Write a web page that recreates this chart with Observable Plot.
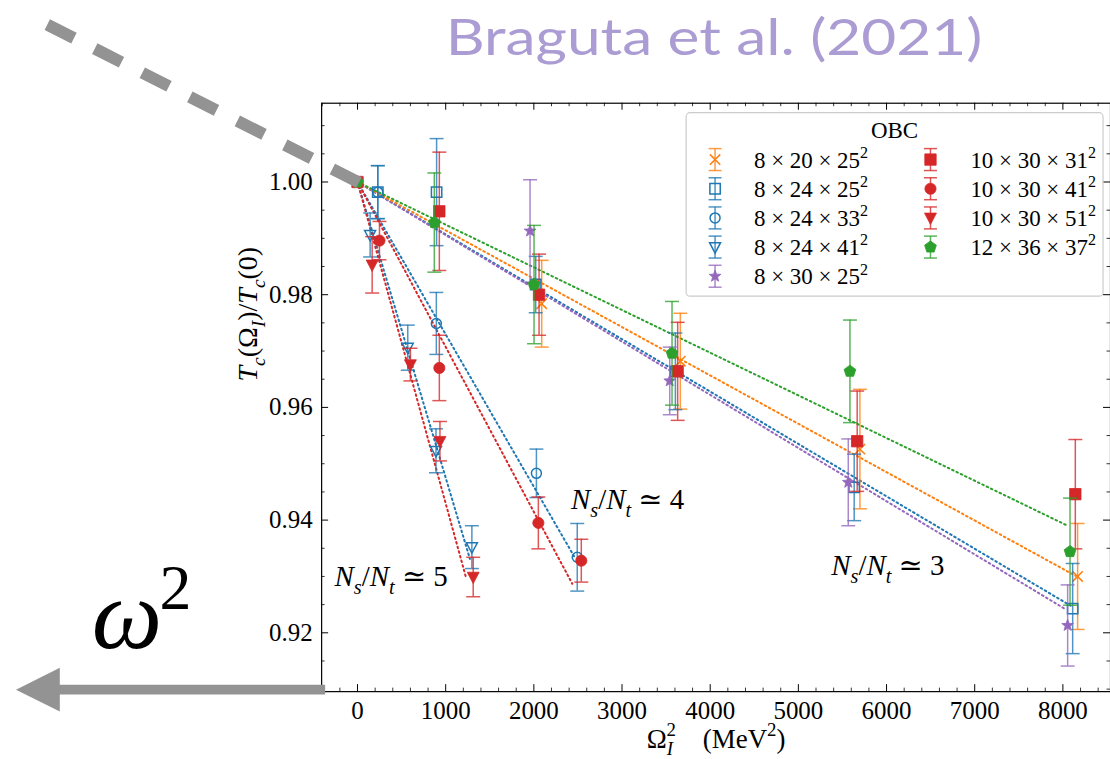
<!DOCTYPE html>
<html><head><meta charset="utf-8">
<script src="https://cdn.jsdelivr.net/npm/d3@7"></script>
<script src="https://cdn.jsdelivr.net/npm/@observablehq/plot@0.6"></script>
<style>
html,body{margin:0;padding:0;background:#fff;overflow:hidden;width:1110px;height:759px;}
#chart{position:relative;width:1110px;height:759px;overflow:hidden;}
</style></head><body><div id="chart"></div>
<script>
// ---------------- data ----------------
const SERIES = ["8 × 20 × 25²", "8 × 24 × 25²", "8 × 24 × 33²", "8 × 24 × 41²", "8 × 30 × 25²",
                "10 × 30 × 31²", "10 × 30 × 41²", "10 × 30 × 51²", "12 × 36 × 37²"];

const omega2_8x20x25 = [2089, 3661, 5698, 8167];
const tc_8x20x25     = [0.9784, 0.9682, 0.9526, 0.9300];
const err_8x20x25    = [0.0077, 0.0085, 0.0106, 0.0094];

const omega2_8x24x25 = [230, 897, 2021, 3605, 5633, 8111];
const tc_8x24x25     = [0.9982, 0.9982, 0.9818, 0.9664, 0.9458, 0.9243];
const err_8x24x25    = [0.0047, 0.0095, 0.0050, 0.0068, 0.0059, 0.0080];

const omega2_8x24x33 = [230, 894, 2029, 2492];
const tc_8x24x33     = [0.9982, 0.9749, 0.9483, 0.9334];
const err_8x24x33    = [0.0047, 0.0055, 0.0043, 0.0060];

const omega2_8x24x41 = [143, 570, 890, 1297];
const tc_8x24x41     = [0.9906, 0.9706, 0.9523, 0.9352];
const err_8x24x41    = [0.0039, 0.0040, 0.0039, 0.0038];

const omega2_8x30x25 = [1957, 3541, 5566, 8054];
const tc_8x30x25     = [0.9913, 0.9647, 0.9467, 0.9213];
const err_8x30x25    = [0.0091, 0.0060, 0.0077, 0.0072];

const omega2_10x30x31 = [0, 928, 2059, 3631, 5667, 8141];
const tc_10x30x31     = [1.0, 0.9948, 0.9800, 0.9664, 0.9540, 0.9446];
const err_10x30x31    = [0, 0.0105, 0.0072, 0.0087, 0.0089, 0.0097];

const omega2_10x30x41 = [249, 928, 2051, 2538];
const tc_10x30x41     = [0.9896, 0.9670, 0.9395, 0.9328];
const err_10x30x41    = [0.0034, 0.0058, 0.0046, 0.0038];

const omega2_10x30x51 = [166, 600, 935, 1312];
const tc_10x30x51     = [0.9853, 0.9676, 0.9540, 0.9299];
const err_10x30x51    = [0.0050, 0.0029, 0.0035, 0.0035];

const omega2_12x36x37 = [0, 871, 2002, 3567, 5585, 8081];
const tc_12x36x37     = [1.0, 0.9928, 0.9818, 0.9696, 0.9664, 0.9344];
const err_12x36x37    = [0, 0.0088, 0.0105, 0.0092, 0.0091, 0.0095];

// dotted fits, all starting from (0, 1)
const FIT_SERIES      = ["8 × 24 × 25²", "8 × 30 × 25²", "8 × 20 × 25²", "12 × 36 × 37²",
                         "8 × 24 × 33²", "10 × 30 × 41²", "8 × 24 × 41²", "10 × 30 × 51²"];
const FIT_OMEGA2_START = [0, 0, 0, 0, 0, 0, 0, 0];
const FIT_TC_START     = [1, 1, 1, 1, 1, 1, 1, 1];
const FIT_OMEGA2_END   = [8088, 8017, 8145, 8054, 2474, 2436, 1275, 1229];
const FIT_TC_END       = [0.9248, 0.9243, 0.9301, 0.9390, 0.9331, 0.9287, 0.9331, 0.9299];

const ANNOT_TEXT   = ["N_s/N_t ≃ 5", "N_s/N_t ≃ 4", "N_s/N_t ≃ 3"];
const ANNOT_OMEGA2 = [-260, 2421, 5373];
const ANNOT_TC     = [0.9299, 0.9437, 0.9319];

const X_TICKS = [0, 1000, 2000, 3000, 4000, 5000, 6000, 7000, 8000];
const Y_TICKS = [0.92, 0.94, 0.96, 0.98, 1.00];
const X_MINOR = d3.range(-400, 8401, 200).filter(v => v % 1000 !== 0);
const Y_MINOR = [0.910, 0.915, 0.925, 0.930, 0.935, 0.945, 0.950, 0.955, 0.965, 0.970, 0.975, 0.985, 0.990, 0.995, 1.005, 1.010];

const X_LABEL = "Ω_I^2\u2003([MeV]^2)";
const Y_LABEL = "T_c(Ω_I)/T_c(0)";
const LEGEND_TITLE = "OBC";
const SOURCE_TEXT = "Braguta et al. (2021)";
const OMEGA_TEXT = "ω";
const OMEGA_EXP = "2";

// ---------------- symbols & styles ----------------
const Rof = s => Math.sqrt(s / Math.PI);
const symSquare = {draw(c, s) { const r = Rof(s); c.rect(-r, -r, 2 * r, 2 * r); }};
const symTimes = {draw(c, s) { const r = Rof(s); c.moveTo(-r, -r); c.lineTo(r, r); c.moveTo(-r, r); c.lineTo(r, -r); }};
const symCircle = {draw(c, s) { const r = Rof(s); c.moveTo(r, 0); c.arc(0, 0, r, 0, 2 * Math.PI); c.closePath(); }};
const symTriDown = {draw(c, s) { const r = Rof(s); c.moveTo(-r, -r * 0.8); c.lineTo(r, -r * 0.8); c.lineTo(0, r * 1.1); c.closePath(); }};
const symPent = {draw(c, s) { const r = Rof(s);
  for (let k = 0; k < 5; k++) { const a = -Math.PI / 2 + k * 2 * Math.PI / 5; const px = r * Math.cos(a), py = r * Math.sin(a); if (k) c.lineTo(px, py); else c.moveTo(px, py); }
  c.closePath(); }};
const symStar = {draw(c, s) { const r = Rof(s), ri = r * 0.42;
  for (let k = 0; k < 10; k++) { const a = -Math.PI / 2 + k * Math.PI / 5; const rr = k % 2 ? ri : r; const px = rr * Math.cos(a), py = rr * Math.sin(a); if (k) c.lineTo(px, py); else c.moveTo(px, py); }
  c.closePath(); }};
const symCap = {draw(c, s) { const r = Rof(s); c.moveTo(-r, 0); c.lineTo(r, 0); }};

const STYLE = [
  {color: "#ff7f0e", symbol: symTimes,   r: 5.2, filled: false},
  {color: "#1f77b4", symbol: symSquare,  r: 5.2, filled: false},
  {color: "#1f77b4", symbol: symCircle,  r: 5,   filled: false},
  {color: "#1f77b4", symbol: symTriDown, r: 5.5, filled: false},
  {color: "#9467bd", symbol: symStar,    r: 6.2, filled: true},
  {color: "#d62728", symbol: symSquare,  r: 5.7, filled: true},
  {color: "#d62728", symbol: symCircle,  r: 5.6, filled: true},
  {color: "#d62728", symbol: symTriDown, r: 6,   filled: true},
  {color: "#2ca02c", symbol: symPent,    r: 6.2, filled: true}
];

const OMEGA = [omega2_8x20x25, omega2_8x24x25, omega2_8x24x33, omega2_8x24x41, omega2_8x30x25, omega2_10x30x31, omega2_10x30x41, omega2_10x30x51, omega2_12x36x37];
const TC    = [tc_8x20x25, tc_8x24x25, tc_8x24x33, tc_8x24x41, tc_8x30x25, tc_10x30x31, tc_10x30x41, tc_10x30x51, tc_12x36x37];
const ERR   = [err_8x20x25, err_8x24x25, err_8x24x33, err_8x24x41, err_8x30x25, err_10x30x31, err_10x30x41, err_10x30x51, err_12x36x37];

const FONT = "'Liberation Serif', 'DejaVu Serif', serif";
const W = 1113, H = 759, ML = 322, MT = 103, MR = 0, MB = 66;
const PW = W - ML - MR, PH = H - MT - MB;
const MAJ = 7, MIN = 3.5;

// ---------------- marks ----------------
const marks = [];
SERIES.forEach((name, i) => {
  const st = STYLE[i];
  const rows = OMEGA[i].map((x, j) => ({x, y: TC[i][j], e: ERR[i][j]}));
  const withErr = rows.filter(d => d.e > 0);
  marks.push(Plot.ruleX(withErr, {x: "x", y1: d => d.y - d.e, y2: d => d.y + d.e, stroke: st.color, strokeWidth: 1.5, strokeOpacity: 0.78}));
  marks.push(Plot.dot(withErr, {x: "x", y: d => d.y + d.e, symbol: symCap, r: 7, stroke: st.color, fill: "none", strokeWidth: 1.5, strokeOpacity: 0.78}));
  marks.push(Plot.dot(withErr, {x: "x", y: d => d.y - d.e, symbol: symCap, r: 7, stroke: st.color, fill: "none", strokeWidth: 1.5, strokeOpacity: 0.78}));
  marks.push(Plot.dot(rows, {x: "x", y: "y", symbol: st.symbol, r: st.r,
    fill: st.filled ? st.color : "none", stroke: st.color, strokeWidth: st.filled ? 0.8 : 1.5}));
});

const fitMarks = FIT_SERIES.map((name, k) => {
  const st = STYLE[SERIES.indexOf(name)];
  return Plot.line([{x: FIT_OMEGA2_START[k], y: FIT_TC_START[k]}, {x: FIT_OMEGA2_END[k], y: FIT_TC_END[k]}],
    {x: "x", y: "y", stroke: st.color, strokeWidth: 2, strokeDasharray: "1.6,3.2"});
});

const annot = ANNOT_TEXT.map((t, k) => ({t, x: ANNOT_OMEGA2[k], y: ANNOT_TC[k]}));

const plot = Plot.plot({
  width: W, height: H,
  marginLeft: ML, marginTop: MT, marginRight: MR, marginBottom: MB,
  style: {fontFamily: FONT, background: "transparent", overflow: "visible"},
  x: {domain: [-407, 8540], axis: null},
  y: {domain: [0.90956, 1.01398], axis: null},
  marks: [
    ...fitMarks,
    ...marks,
    Plot.frame({stroke: "black", strokeWidth: 1.2}),
    Plot.tickX(X_TICKS, {x: d => d, insetTop: PH - MAJ, stroke: "black", strokeWidth: 1}),
    Plot.tickX(X_TICKS, {x: d => d, insetBottom: PH - MAJ, stroke: "black", strokeWidth: 1}),
    Plot.tickX(X_MINOR, {x: d => d, insetTop: PH - MIN, stroke: "black", strokeWidth: 0.8}),
    Plot.tickX(X_MINOR, {x: d => d, insetBottom: PH - MIN, stroke: "black", strokeWidth: 0.8}),
    Plot.tickY(Y_TICKS, {y: d => d, insetRight: PW - MAJ, stroke: "black", strokeWidth: 1}),
    Plot.tickY(Y_TICKS, {y: d => d, insetLeft: PW - MAJ, stroke: "black", strokeWidth: 1}),
    Plot.tickY(Y_MINOR, {y: d => d, insetRight: PW - MIN, stroke: "black", strokeWidth: 0.8}),
    Plot.tickY(Y_MINOR, {y: d => d, insetLeft: PW - MIN, stroke: "black", strokeWidth: 0.8}),
    Plot.text(X_TICKS, {x: d => d, frameAnchor: "bottom", lineAnchor: "top", dy: 10, text: d => String(d), fontSize: 25, fill: "black"}),
    Plot.text(Y_TICKS, {y: d => d, frameAnchor: "left", textAnchor: "end", dx: -9, text: d => d3.format(".2f")(d), fontSize: 25, fill: "black"}),
    Plot.text(annot, {x: "x", y: "y", text: "t", textAnchor: "start", fontSize: 29, fill: "black"}),
    Plot.text([X_LABEL], {frameAnchor: "bottom", lineAnchor: "top", dy: 37, text: d => d, fontSize: 27, fill: "black"}),
    Plot.text([Y_LABEL], {frameAnchor: "left", rotate: -90, dx: -74, dy: -16, text: d => d, fontSize: 28, fill: "black"})
  ]
});
document.getElementById("chart").appendChild(plot);

// ---------------- math typesetting for sub/superscripts ----------------
function mathify(node, src, fs, italicLetters = true) {
  const el = d3.select(node);
  el.text(null);
  let shift = 0, prevLevel = 0;
  function add(str, italic, level, dx) {
    const target = level < 0 ? fs * 0.28 : level > 0 ? -fs * 0.42 : 0;
    const t = el.append("tspan").text(str);
    if (target - shift !== 0) t.attr("dy", target - shift);
    if (dx) t.attr("dx", dx);
    if (italic && italicLetters) t.attr("font-style", "italic");
    if (level !== 0) t.attr("font-size", fs * 0.7);
    shift = target; prevLevel = level;
  }
  let i = 0;
  while (i < src.length) {
    const c = src[i];
    if ((c === "_" || c === "^") && i + 1 < src.length) {
      const ch = src[i + 1];
      const level = c === "_" ? -1 : 1;
      const dx = (level === 1 && prevLevel === -1) ? -fs * 0.24 : 0;
      add(ch, /[A-Za-z]/.test(ch), level, dx);
      i += 2;
    } else if (c === "[") {
      const j = src.indexOf("]", i);
      add(src.slice(i + 1, j), false, 0, 0);
      i = j + 1;
    } else {
      const isL = /[A-Za-z]/.test(c);
      let j = i + 1;
      while (j < src.length && !"_^[".includes(src[j]) && /[A-Za-z]/.test(src[j]) === isL) j++;
      add(src.slice(i, j), isL, 0, 0);
      i = j;
    }
  }
}
const svg = d3.select(plot);
svg.selectAll("text").each(function() {
  const s = this.textContent;
  if (s.includes("_") || s.includes("^")) {
    const fs = parseFloat(getComputedStyle(this).fontSize);
    mathify(this, s, fs);
  }
});

// ---------------- legend ----------------
const LFS = 23;
const leg = svg.append("g").attr("font-family", FONT).attr("font-size", LFS).attr("fill", "black").attr("text-anchor", "start");
const LX = W - MR - 7 - 418, LY = MT + 10;
leg.append("rect").attr("x", LX).attr("y", LY).attr("width", 418).attr("height", 184).attr("rx", 4)
  .attr("fill", "white").attr("fill-opacity", 0.85).attr("stroke", "#cccccc").attr("stroke-width", 1.2);
leg.append("text").attr("x", LX + 209).attr("y", LY + 17).attr("dy", "0.35em").attr("text-anchor", "middle").text(LEGEND_TITLE);
SERIES.forEach((name, i) => {
  const st = STYLE[i];
  const col = i < 5 ? 0 : 1, row = i < 5 ? i : i - 5;
  const mx = LX + (col ? 245 : 29), tx = LX + (col ? 285 : 68), cy = LY + 47 + row * 29.25;
  const g = leg.append("g").attr("stroke", st.color).attr("stroke-width", 1.5);
  g.append("line").attr("x1", mx).attr("x2", mx).attr("y1", cy - 11).attr("y2", cy + 11).attr("stroke-opacity", 0.78);
  g.append("line").attr("x1", mx - 6.5).attr("x2", mx + 6.5).attr("y1", cy - 11).attr("y2", cy - 11).attr("stroke-opacity", 0.78);
  g.append("line").attr("x1", mx - 6.5).attr("x2", mx + 6.5).attr("y1", cy + 11).attr("y2", cy + 11).attr("stroke-opacity", 0.78);
  g.append("path").attr("transform", `translate(${mx},${cy})`)
    .attr("d", d3.symbol(st.symbol, st.r * st.r * Math.PI)())
    .attr("fill", st.filled ? st.color : "none").attr("stroke-width", st.filled ? 0.8 : 1.5);
  const t = leg.append("text").attr("x", tx).attr("y", cy + LFS * 0.35);
  mathify(t.node(), name.replace("²", "^2"), LFS, false);
});

// ---------------- overlay annotations ----------------
const ov = svg.append("g").attr("text-anchor", "start");
ov.append("line").attr("x1", 360).attr("y1", 183).attr("x2", 46).attr("y2", 24)
  .attr("stroke", "#939393").attr("stroke-width", 12).attr("stroke-dasharray", "30,23.4");
ov.append("line").attr("x1", 326).attr("y1", 691.5).attr("x2", 58).attr("y2", 691.5)
  .attr("stroke", "#939393").attr("stroke-width", 10);
ov.append("path").attr("d", "M16,691.5L60,669.5L60,713.5Z").attr("fill", "#939393");
ov.append("text").attr("x", 447).attr("y", 55).attr("font-family", "Lato, 'Open Sans', sans-serif")
  .attr("font-size", 50).attr("fill", "#ab9dd3").attr("textLength", 538).attr("lengthAdjust", "spacingAndGlyphs").text(SOURCE_TEXT);
ov.append("text").attr("x", 92).attr("y", 650).attr("font-family", FONT).attr("font-style", "italic")
  .attr("font-size", 100).attr("fill", "black").text(OMEGA_TEXT);
ov.append("text").attr("x", 160).attr("y", 611).attr("font-family", FONT)
  .attr("font-size", 64).attr("fill", "black").text(OMEGA_EXP);
</script></body></html>
